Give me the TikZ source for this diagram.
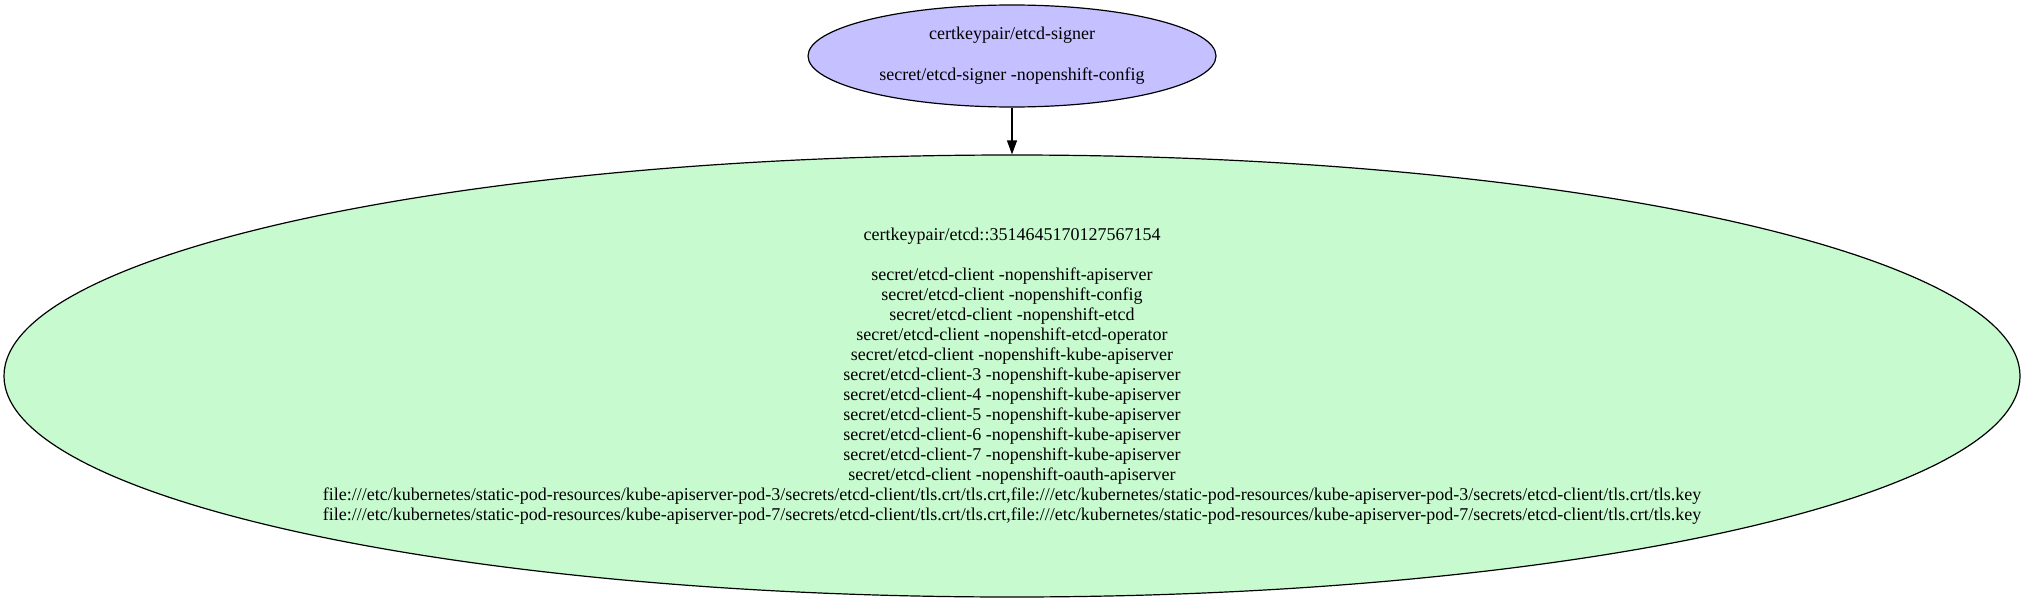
\documentclass[tikz,border=0pt]{standalone}
\usepackage{fontspec}
\setmainfont{Liberation Serif}
\usepackage{tikz}
\usetikzlibrary{arrows.meta, positioning, shapes.geometric}
\definecolor{signerfill}{HTML}{C5C0FF}
\definecolor{certfill}{HTML}{C8FAD0}
\tikzset{
    cert/.style={ellipse, draw=black, line width=1.2pt, inner sep=0pt, align=center,
        font=\fontsize{18}{20}\selectfont},
    signer/.style={cert, fill=signerfill, minimum width=408pt, minimum height=102pt},
    leaf/.style={cert, fill=certfill, minimum width=2016pt, minimum height=442pt},
    link/.style={-{Triangle[length=14pt, width=10pt]}, line width=1.2pt},
}
\begin{document}
\begin{tikzpicture}[x=1pt, y=-1pt]
    \useasboundingbox (0,0) rectangle (2025,602);

    \node[signer] (s0) at (1012,56) {certkeypair/etcd-signer\\[21pt]secret/etcd-signer -nopenshift-config};

    \node[leaf] (c0) at (1012,376) {certkeypair/etcd::3514645170127567154\\[20pt]
        secret/etcd-client -nopenshift-apiserver\\
        secret/etcd-client -nopenshift-config\\
        secret/etcd-client -nopenshift-etcd\\
        secret/etcd-client -nopenshift-etcd-operator\\
        secret/etcd-client -nopenshift-kube-apiserver\\
        secret/etcd-client-3 -nopenshift-kube-apiserver\\
        secret/etcd-client-4 -nopenshift-kube-apiserver\\
        secret/etcd-client-5 -nopenshift-kube-apiserver\\
        secret/etcd-client-6 -nopenshift-kube-apiserver\\
        secret/etcd-client-7 -nopenshift-kube-apiserver\\
        secret/etcd-client -nopenshift-oauth-apiserver\\
        file:///etc/kubernetes/static-pod-resources/kube-apiserver-pod-3/secrets/etcd-client/tls.crt/tls.crt,file:///etc/kubernetes/static-pod-resources/kube-apiserver-pod-3/secrets/etcd-client/tls.crt/tls.key\\
        file:///etc/kubernetes/static-pod-resources/kube-apiserver-pod-7/secrets/etcd-client/tls.crt/tls.crt,file:///etc/kubernetes/static-pod-resources/kube-apiserver-pod-7/secrets/etcd-client/tls.crt/tls.key};

    \draw[link] (s0) -- (c0);
\end{tikzpicture}
\end{document}
